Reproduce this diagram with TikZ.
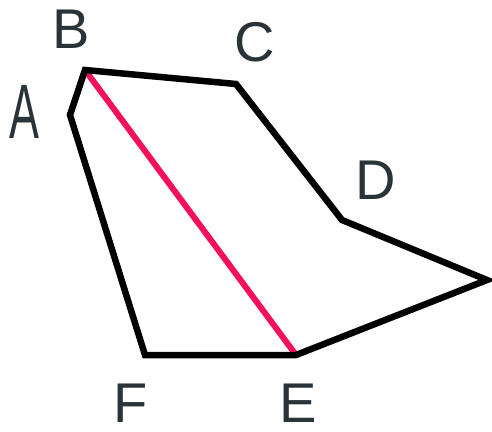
\documentclass[tikz,border=0pt]{standalone}
\usepackage{fontspec}
\setmainfont{Liberation Sans}
\usetikzlibrary{positioning, calc}
\definecolor{labelgray}{HTML}{2A3438}
\definecolor{diagred}{HTML}{F5105A}

\begin{document}
\begin{tikzpicture}[x=1pt, y=-1pt,
    side/.style={draw=black, line width=6.5pt, line join=miter},
    diag/.style={draw=diagred, line width=6pt},
    vlabel/.style={font=\fontsize{56}{56}\selectfont, text=labelgray, inner sep=0pt}]
          \useasboundingbox (0,0) rectangle (492,431);
          % Eckpunkte
          \coordinate (A) at (70,115);
          \coordinate (B) at (85,70);
          \coordinate (C) at (236,84);
          \coordinate (D) at (342,220);
          \coordinate (G) at (487,280);
          \coordinate (E) at (296,355);
          \coordinate (F) at (145,355);
          % Diagonale
          \draw[diag] (B) -- (E);
          % Vieleck
          \draw[side] (A) -- (B) -- (C) -- (D) -- (G) -- (E) -- (F) -- cycle;
          % Beschriftungen
          \node[vlabel] (labB) at (71,29) {B};
          \node[vlabel] (labC) at (255,42) {C};
          \node[vlabel, xscale=0.8, yscale=1.38] (labA) at (24,112) {A};
          \node[vlabel] (labD) at (376,180) {D};
          \node[vlabel] (labF) at (131,403) {F};
          \node[vlabel] (labE) at (298,403) {E};
        \end{tikzpicture}
\end{document}
